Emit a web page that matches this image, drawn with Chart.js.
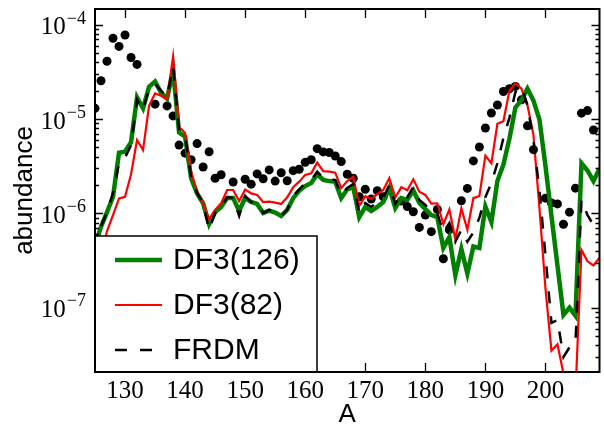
<!DOCTYPE html>
<html>
<head>
<meta charset="utf-8">
<script src="https://cdn.jsdelivr.net/npm/chart.js@4.4.0/dist/chart.umd.min.js"></script>
<style>
  html, body { margin: 0; padding: 0; background: #fff; }
  canvas { display: block; }
</style>
</head>
<body>
<canvas id="abund" width="604" height="428"></canvas>
<script>
// mass number A
const massNumbers = [125,126,127,128,129,130,131,132,133,134,135,136,137,138,139,140,141,142,143,144,
  145,146,147,148,149,150,151,152,153,154,155,156,157,158,159,160,161,162,163,164,
  165,166,167,168,169,170,171,172,173,174,175,176,177,178,179,180,181,182,183,184,
  185,186,187,188,189,190,191,192,193,194,195,196,197,198,199,200,201,202,203,204,
  205,206,207,208,209];

// DF3(126)
const df3_126 = [4.6e-7,7.2e-7,1.03e-6,1.5e-6,4.4e-6,4.5e-6,5.7e-6,1.7e-5,1.3e-5,2.2e-5,
  2.5e-5,1.9e-5,1.65e-5,3.3e-5,7.2e-6,6.5e-6,2.36e-6,1.63e-6,1.28e-6,7.7e-7,
  1.03e-6,1.17e-6,1.46e-6,1.46e-6,1.06e-6,1.46e-6,1.32e-6,1.26e-6,1.01e-6,1.07e-6,
  1.02e-6,9.4e-7,1.09e-6,1.45e-6,1.74e-6,1.95e-6,2.1e-6,2.6e-6,2.26e-6,2.2e-6,
  2.17e-6,1.45e-6,1.8e-6,1.9e-6,9.1e-7,1.17e-6,1.06e-6,1.17e-6,1.32e-6,1.86e-6,
  1.14e-6,1.45e-6,1.39e-6,1.75e-6,1.29e-6,1.11e-6,9.6e-7,9.1e-7,4.3e-7,5.6e-7,
  2.2e-7,4.2e-7,2.3e-7,4.45e-7,4.3e-7,1.18e-6,8.1e-7,2.2e-6,3.3e-6,6.2e-6,
  1.33e-5,1.58e-5,2.1e-5,1.57e-5,9.9e-6,3.2e-6,9.4e-7,2.8e-7,8.4e-8,1.0e-7,
  8.2e-8,3.4e-6,2.85e-6,2.2e-6,3.0e-6];

// DF3(82)
const df3_82 = [1.5e-7,3.4e-7,6.5e-7,9.6e-7,1.44e-6,1.5e-6,2.6e-6,6.0e-6,4.7e-6,1.38e-5,
  1.87e-5,1.77e-5,1.62e-5,4.6e-5,8.3e-6,7.1e-6,2.8e-6,1.7e-6,1.28e-6,8.7e-7,
  1.09e-6,1.28e-6,1.77e-6,1.77e-6,1.35e-6,1.79e-6,1.63e-6,1.57e-6,1.32e-6,1.33e-6,
  1.3e-6,1.26e-6,1.48e-6,1.89e-6,2.17e-6,2.56e-6,2.66e-6,3.45e-6,2.8e-6,2.77e-6,
  2.7e-6,1.85e-6,2.2e-6,2.45e-6,1.2e-6,1.52e-6,1.42e-6,1.6e-6,1.77e-6,2.36e-6,
  1.47e-6,1.9e-6,1.76e-6,2.3e-6,1.7e-6,1.57e-6,1.27e-6,1.28e-6,7.7e-7,1.1e-6,
  5.3e-7,1.13e-6,6.7e-7,1.45e-6,1.53e-6,4.1e-6,3.4e-6,8.9e-6,9.5e-6,2.0e-5,
  2.4e-5,2.1e-5,1.41e-5,6.8e-6,1.14e-6,1.6e-7,3.5e-8,4.1e-8,2.0e-8,2.4e-9,
  1.24e-8,4.1e-7,3.1e-7,2.8e-7,3.4e-7];

// FRDM
const frdm = [4.1e-7,7.3e-7,1.03e-6,1.65e-6,3.4e-6,3.9e-6,5.3e-6,1.6e-5,1.25e-5,2.1e-5,
  2.36e-5,2.0e-5,1.72e-5,3.6e-5,7.5e-6,6.6e-6,2.43e-6,1.65e-6,1.26e-6,6.7e-7,
  1.01e-6,1.14e-6,1.49e-6,1.46e-6,9.4e-7,1.53e-6,1.32e-6,1.29e-6,1.01e-6,1.09e-6,
  1.03e-6,9.4e-7,1.09e-6,1.53e-6,1.8e-6,2.1e-6,2.26e-6,2.77e-6,2.37e-6,2.32e-6,
  2.26e-6,1.57e-6,1.86e-6,2.05e-6,1.01e-6,1.29e-6,1.17e-6,1.32e-6,1.46e-6,2.0e-6,
  1.26e-6,1.6e-6,1.49e-6,1.9e-6,1.39e-6,1.23e-6,1.03e-6,9.9e-7,6.3e-7,7.9e-7,
  5.0e-7,6.7e-7,5.0e-7,6.3e-7,9.0e-7,1.49e-6,2.1e-6,3.4e-6,6.3e-6,1.03e-5,
  1.94e-5,2.2e-5,1.41e-5,6.0e-6,1.77e-6,3.6e-7,6.9e-8,7.4e-8,3.0e-8,3.8e-8,
  4.2e-8,1.39e-6,9.6e-7,7.5e-7,9.0e-7];

// solar r-process points (null = no point)
const solar = [1.3e-5,2.55e-5,4.1e-5,7.2e-5,5.9e-5,7.8e-5,4.5e-5,3.8e-5,null,null,
  1.44e-5,null,1.38e-5,1.08e-5,5.3e-6,4.35e-6,3.7e-6,5.5e-6,3.1e-6,4.5e-6,
  2.36e-6,2.57e-6,null,2.15e-6,null,2.3e-6,2.04e-6,2.62e-6,2.33e-6,2.89e-6,
  2.2e-6,2.7e-6,2.22e-6,2.84e-6,2.94e-6,3.48e-6,3.7e-6,4.86e-6,4.49e-6,4.42e-6,
  4.06e-6,3.54e-6,2.6e-6,2.36e-6,1.5e-6,1.8e-6,1.42e-6,1.74e-6,1.5e-6,null,
  null,1.35e-6,1.18e-6,1.04e-6,7.1e-7,9.6e-7,6.4e-7,1.1e-6,3.3e-7,6.7e-7,
  null,1.36e-6,1.84e-6,3.6e-6,5.06e-6,8.05e-6,1.16e-5,1.41e-5,1.96e-5,2.1e-5,
  2.22e-5,1.6e-5,8.48e-6,4.74e-6,null,1.45e-6,1.29e-6,1.26e-6,7.67e-7,1.03e-6,
  1.85e-6,1.155e-5,1.23e-5,7.67e-6,null];

const xTicks = [130,140,150,160,170,180,190,200];
const yDecades = [1e-7,1e-6,1e-5,1e-4];
const seriesNames = ['DF3(126)','DF3(82)','FRDM'];
const seriesColors = ['#008000','#ff0000','#000000'];

const pts = arr => massNumbers.map((a, i) => ({ x: a, y: arr[i] }));
const frdmDash = [12, 13];

// рамка, ішкі тиктер, y белгілері және легенда
const framePlugin = {
  id: 'frame',
  afterDraw(chart) {
    const { ctx, chartArea: ca, scales: { x, y } } = chart;
    ctx.save();
    ctx.strokeStyle = '#000';

    // ticks
    ctx.lineWidth = 1.3;
    ctx.beginPath();
    xTicks.forEach(v => {
      const px = Math.round(x.getPixelForValue(v)) + 0.5;
      ctx.moveTo(px, ca.bottom); ctx.lineTo(px, ca.bottom - 9);
      ctx.moveTo(px, ca.top); ctx.lineTo(px, ca.top + 9);
    });
    for (let d = 1e-8; d <= 1e-4; d *= 10) {
      for (let m = 1; m <= 9; m++) {
        const v = d * m;
        if (v < y.min || v > y.max) continue;
        const py = Math.round(y.getPixelForValue(v)) + 0.5;
        const len = m === 1 ? 8 : 4;
        ctx.moveTo(ca.left, py); ctx.lineTo(ca.left + len, py);
        ctx.moveTo(ca.right, py); ctx.lineTo(ca.right - len, py);
      }
    }
    ctx.stroke();

    // legend
    const lx = ca.left, ly = 236, lw = 222, lh = ca.bottom - ly;
    ctx.fillStyle = '#fff';
    ctx.fillRect(lx, ly, lw, lh);
    ctx.lineWidth = 1.5;
    ctx.strokeRect(lx, ly, lw, lh);
    const widths = [4.5, 2.2, 2.5];
    seriesNames.forEach((name, i) => {
      const yy = 260 + i * 45;
      ctx.beginPath();
      ctx.strokeStyle = seriesColors[i];
      ctx.lineWidth = widths[i];
      ctx.setLineDash(i === 2 ? frdmDash : []);
      ctx.moveTo(115, yy); ctx.lineTo(162, yy);
      ctx.stroke();
      ctx.setLineDash([]);
      ctx.fillStyle = '#000';
      ctx.font = '30px "Liberation Sans"';
      ctx.textAlign = 'left';
      ctx.textBaseline = 'middle';
      ctx.fillText(name, 173, yy + 1);
    });

    // frame
    ctx.strokeStyle = '#000';
    ctx.lineWidth = 2;
    ctx.strokeRect(ca.left, ca.top, ca.right - ca.left, ca.bottom - ca.top);

    // y tick labels 10^-n
    yDecades.forEach(v => {
      const py = y.getPixelForValue(v);
      const sup = '\u2212' + Math.round(-Math.log10(v));
      ctx.fillStyle = '#000';
      ctx.textBaseline = 'middle';
      ctx.font = '18px "Liberation Serif"';
      const sw = ctx.measureText(sup).width;
      ctx.textAlign = 'left';
      ctx.fillText(sup, 86 - sw, py - 6);
      ctx.font = '25px "Liberation Serif"';
      ctx.textAlign = 'right';
      ctx.fillText('10', 86 - sw - 1, py + 3);
    });
    ctx.restore();
  }
};

new Chart(document.getElementById('abund'), {
  type: 'line',
  data: {
    datasets: [
      { label: 'solar', data: pts(solar), showLine: false, pointRadius: 4.5,
        pointBackgroundColor: '#000', pointBorderWidth: 0, clip: 0, order: 4 },
      { label: seriesNames[0], data: pts(df3_126), borderColor: seriesColors[0],
        borderWidth: 4.5, pointRadius: 0, tension: 0, order: 3 },
      { label: seriesNames[1], data: pts(df3_82), borderColor: seriesColors[1],
        borderWidth: 2.2, pointRadius: 0, tension: 0, order: 2 },
      { label: seriesNames[2], data: pts(frdm), borderColor: seriesColors[2],
        borderWidth: 2.5, borderDash: frdmDash, pointRadius: 0, tension: 0, order: 1 }
    ]
  },
  options: {
    responsive: false,
    animation: false,
    devicePixelRatio: 1,
    layout: { padding: { top: 9, right: 1, left: 0, bottom: 0 } },
    plugins: { legend: { display: false }, tooltip: { enabled: false } },
    scales: {
      x: {
        type: 'linear', min: 125, max: 209,
        afterBuildTicks: s => { s.ticks = xTicks.map(v => ({ value: v })); },
        afterFit: s => { s.height = 56; },
        grid: { display: false, drawTicks: false },
        border: { display: false },
        ticks: { color: '#000', padding: 4, maxRotation: 0, autoSkip: false,
                 font: { family: 'Liberation Serif', size: 25, lineHeight: 1.2 } },
        title: { display: true, text: 'A', color: '#000', padding: 0,
                 font: { family: 'Liberation Sans', size: 26, lineHeight: 1 } }
      },
      y: {
        type: 'logarithmic', min: 2.08e-8, max: 1.47e-4,
        afterFit: s => { s.width = 95; },
        grid: { display: false, drawTicks: false },
        border: { display: false },
        ticks: { display: false },
        title: { display: true, text: 'abundance', color: '#000', padding: { top: 12, bottom: 0 },
                 font: { family: 'Liberation Sans', size: 26, lineHeight: 1 } }
      }
    }
  },
  plugins: [framePlugin]
});
</script>
</body>
</html>
